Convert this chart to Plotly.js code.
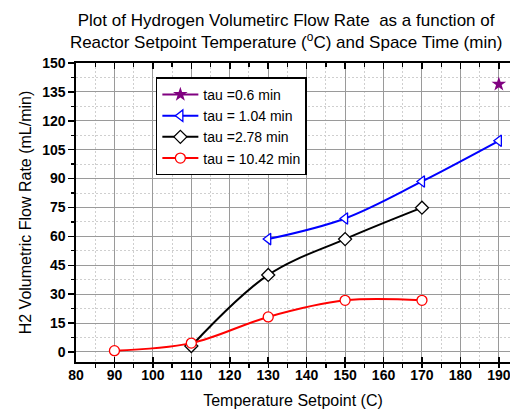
<!DOCTYPE html>
<html>
<head>
<meta charset="utf-8">
<script src="https://cdn.plot.ly/plotly-3.0.1.min.js"></script>
<style>html,body{margin:0;padding:0;background:#fff;}#chart{width:510px;height:416px;}</style>
</head>
<body>
<div id="chart"></div>
<script>
// Data
const tau06_x = [190];
const tau06_y = [139];
const tau104_x = [130, 150, 170, 190];
const tau104_y = [58.6, 69.3, 88.5, 109.6];
const tau278_x = [110, 130, 150, 170];
const tau278_y = [3.1, 40.0, 58.6, 74.9];
const tau1042_x = [90, 110, 130, 150, 170];
const tau1042_y = [0.7, 4.6, 18.2, 26.8, 26.8];
const seriesNames = ['tau =0.6 min', 'tau = 1.04 min', 'tau =2.78 min', 'tau = 10.42 min'];

const lineW = 2;
const traces = [
  {x: tau06_x, y: tau06_y, name: seriesNames[0], mode: 'lines+markers',
   line: {color: '#800080', width: lineW},
   marker: {symbol: 'star', size: 11, color: '#800080'}},
  {x: tau104_x, y: tau104_y, name: seriesNames[1], mode: 'lines+markers',
   line: {color: '#0000ff', width: lineW, shape: 'spline'},
   marker: {symbol: 'triangle-left', size: 10, color: '#ffffff', line: {color: '#0000ff', width: 1.3}}},
  {x: tau278_x, y: tau278_y, name: seriesNames[2], mode: 'lines+markers',
   line: {color: '#000000', width: lineW, shape: 'spline'},
   marker: {symbol: 'diamond', size: 10, color: '#ffffff', line: {color: '#000000', width: 1.3}}},
  {x: tau1042_x, y: tau1042_y, name: seriesNames[3], mode: 'lines+markers',
   line: {color: '#ff0000', width: lineW, shape: 'spline'},
   marker: {symbol: 'circle', size: 10, color: '#ffffff', line: {color: '#ff0000', width: 1.3}}},
  // carrier for the top axis (invisible)
  {x: tau06_x, y: tau06_y, xaxis: 'x2', yaxis: 'y', mode: 'markers', showlegend: false,
   hoverinfo: 'skip', marker: {opacity: 0}}
];

const FONT = 'Liberation Sans, Arial, sans-serif';
const tickFont = {family: FONT, size: 14, color: '#000', weight: 'bold'};
const xr = [80, 192.9];
const layout = {
  width: 510, height: 416,
  margin: {l: 76, r: 0, t: 63, b: 54},
  paper_bgcolor: '#fff', plot_bgcolor: '#fff',
  font: {family: FONT, color: '#000', size: 14},
  title: {
    text: 'Plot of Hydrogen Volumetirc Flow Rate  as a function of<br>Reactor Setpoint Temperature (<sup>o</sup>C) and Space Time (min)',
    font: {size: 17, family: FONT, color: '#000'},
    x: 0.561, xanchor: 'center', xref: 'container', yref: 'container', y: 0.937, yanchor: 'middle'
  },
  xaxis: {
    range: xr, tick0: 80, dtick: 10, tickmode: 'linear',
    showline: true, linecolor: '#000', linewidth: 1.6,
    ticks: 'inside', ticklen: 5, tickwidth: 1.5, tickcolor: '#000',
    showgrid: true, gridcolor: '#9a9a9a', gridwidth: 1, zeroline: false,
    tickfont: tickFont, ticklabeloverflow: 'allow',
    minor: {dtick: 5, tick0: 80, ticks: 'outside', ticklen: 4, tickwidth: 1.3, tickcolor: '#000',
            showgrid: true, gridcolor: '#cfcfcf', griddash: '2px,2px', gridwidth: 1},
    title: {text: 'Temperature Setpoint (C)', font: {size: 16, family: FONT, color: '#000'}, standoff: 12}
  },
  xaxis2: {
    range: xr, overlaying: 'x', side: 'top', anchor: 'y', tick0: 80, dtick: 10, tickmode: 'linear',
    showline: true, linecolor: '#000', linewidth: 1.6,
    ticks: 'inside', ticklen: 6, tickwidth: 1.5, tickcolor: '#000',
    showticklabels: false, showgrid: false, zeroline: false,
    minor: {dtick: 5, tick0: 80, ticks: 'inside', ticklen: 4, tickwidth: 1.3, tickcolor: '#000', showgrid: false}
  },
  yaxis: {
    range: [-5.2, 150], tick0: 0, dtick: 15, tickmode: 'linear',
    showline: true, linecolor: '#000', linewidth: 1.6,
    ticks: 'outside', ticklen: 6, tickwidth: 1.5, tickcolor: '#000',
    showgrid: true, gridcolor: '#9a9a9a', gridwidth: 1, zeroline: false,
    tickfont: tickFont,
    minor: {dtick: 7.5, tick0: 0, ticks: 'outside', ticklen: 3, tickwidth: 1.3, tickcolor: '#000',
            showgrid: true, gridcolor: '#cfcfcf', griddash: '2px,2px', gridwidth: 1},
    title: {text: 'H2 Volumetric Flow Rate (mL/min)', font: {size: 16, family: FONT, color: '#000'}, standoff: 6}
  },
  showlegend: true,
  legend: {
    x: 0.184, y: 0.952, xanchor: 'left', yanchor: 'top',
    bgcolor: '#fff', bordercolor: '#000', borderwidth: 1.5,
    font: {size: 14, family: FONT, color: '#000'},
    itemwidth: 36, tracegroupgap: 0
  }
};

Plotly.newPlot('chart', traces, layout, {displayModeBar: false, staticPlot: true});
</script>
</body>
</html>
